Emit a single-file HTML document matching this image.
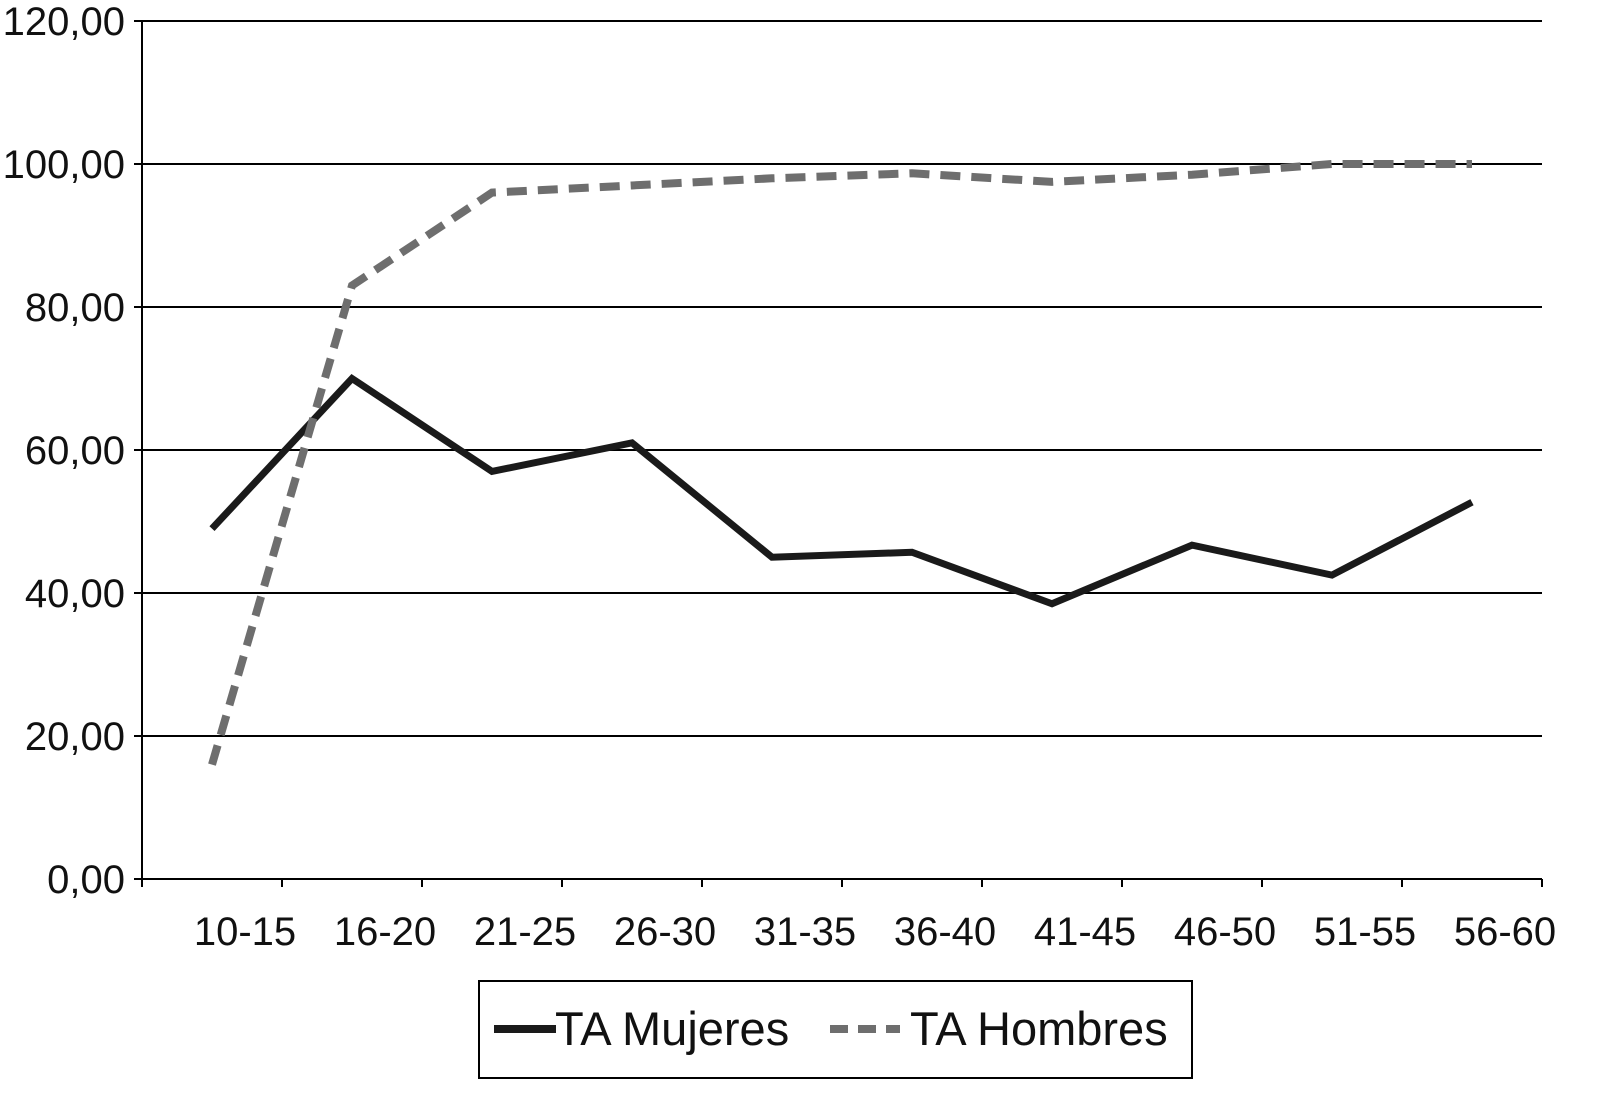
<!DOCTYPE html>
<html><head><meta charset="utf-8"><style>
body{margin:0;background:#fff}
svg{display:block;font-family:"Liberation Sans",sans-serif}
</style></head><body>
<svg id="chart" width="1598" height="1100" viewBox="0 0 1598 1100">
<g id="grid"></g><g id="axes"></g><g id="series"></g>
<g>
<rect x="479" y="981" width="713" height="97" fill="#fff" stroke="#000" stroke-width="2"/>
<g>
<line x1="494" y1="1029" x2="556" y2="1029" stroke="#1a1a1a" stroke-width="8"/>
<text x="555" y="1045" font-size="47" fill="#111">TA Mujeres</text></g>
<g>
<line x1="830" y1="1029" x2="900" y2="1029" stroke="#6e6e6e" stroke-width="8" stroke-dasharray="18,10"/>
<text x="910" y="1045" font-size="47" fill="#111">TA Hombres</text></g>
</g>
</svg>
<script>
const categories=["10-15","16-20","21-25","26-30","31-35","36-40","41-45","46-50","51-55","56-60"];
const mujeres=[49,70,57,61,45,45.7,38.5,46.7,42.5,52.7];
const hombres=[16,83,96,97,98,98.7,97.5,98.5,100,100];
const yTicks=[0,20,40,60,80,100,120];
const yTickLabels=["0,00","20,00","40,00","60,00","80,00","100,00","120,00"];
const NS="http://www.w3.org/2000/svg";
const L=142,R=1542,T=21,B=879,yMax=120;
const bw=(R-L)/categories.length;
const x=i=>L+bw*(i+0.5);
const y=v=>B-(v/yMax)*(B-T);
function mk(tag,attrs,parent){const e=document.createElementNS(NS,tag);for(const k in attrs)e.setAttribute(k,attrs[k]);parent.appendChild(e);return e;}
const grid=document.getElementById('grid'),axes=document.getElementById('axes'),series=document.getElementById('series');
yTicks.forEach((t,i)=>{
 if(t>0){const g=mk('line',{x1:L,x2:R,y1:y(t),y2:y(t),stroke:'#000','stroke-width':2},grid);
 
 }
 const tk=mk('line',{x1:L-8,x2:L,y1:y(t),y2:y(t),stroke:'#000','stroke-width':2},axes);
 
 
 const tx=mk('text',{x:125,y:y(t)+14,'text-anchor':'end','font-size':40,fill:'#111'},axes);
 tx.textContent=yTickLabels[i];
 
 
});
const ya=mk('line',{x1:L,x2:L,y1:T,y2:B,stroke:'#000','stroke-width':2},axes);


const xa=mk('line',{x1:L,x2:R,y1:B,y2:B,stroke:'#000','stroke-width':2},axes);


for(let i=0;i<=categories.length;i++){
 const tk=mk('line',{x1:L+bw*i,x2:L+bw*i,y1:B,y2:B+8,stroke:'#000','stroke-width':2},axes);
 
 
}
categories.forEach((c,i)=>{
 const tx=mk('text',{x:x(i)+33,y:945,'text-anchor':'middle','font-size':40,fill:'#111'},axes);
 tx.textContent=c;
 
 
});
const pts=a=>a.map((v,i)=>x(i)+','+y(v)).join(' ');
const pm=mk('polyline',{points:pts(mujeres),fill:'none',stroke:'#1a1a1a','stroke-width':7,'stroke-linejoin':'miter'},series);


const ph=mk('polyline',{points:pts(hombres),fill:'none',stroke:'#6e6e6e','stroke-width':8,'stroke-dasharray':'20,11'},series);


</script>
</body></html>
